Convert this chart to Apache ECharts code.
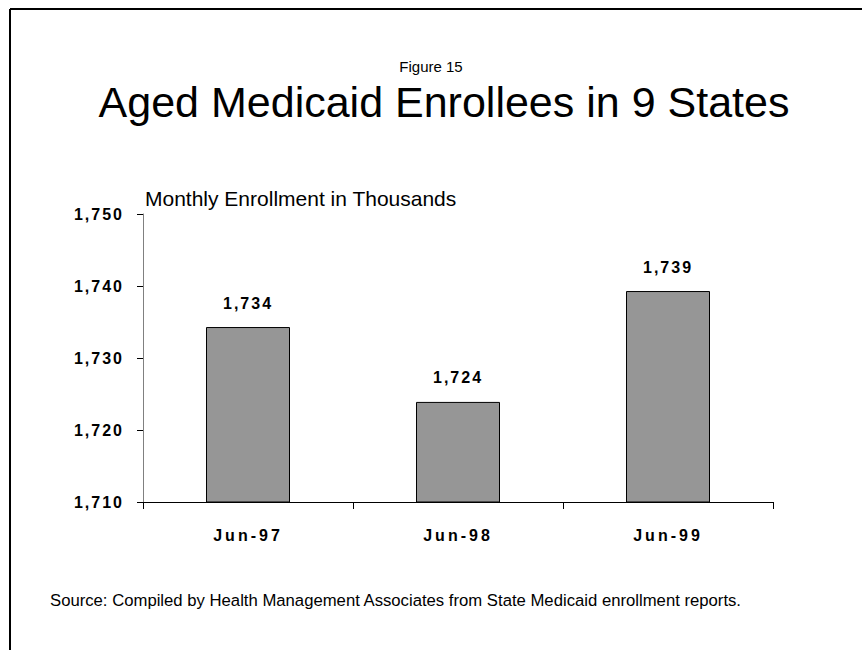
<!DOCTYPE html>
<html>
<head>
<meta charset="utf-8">
<script src="https://cdn.jsdelivr.net/npm/echarts@6/dist/echarts.min.js"></script>
<style>
  html, body { margin: 0; padding: 0; background: #fff; }
  #chart { width: 862px; height: 650px; }
  /* bold axis and value labels are set with open letter spacing */
  #chart text[style*="bold"] { letter-spacing: 2px; }
  #chart text[style*="bold"][style*="Liberation"] { letter-spacing: 3px; }
</style>
</head>
<body>
<div id="chart"></div>
<script>
// Aged Medicaid enrollees, monthly enrollment in thousands
const categories = ['Jun-97', 'Jun-98', 'Jun-99'];
const enrollment = [1734.3, 1723.9, 1739.3];
const yTicks = [1710, 1720, 1730, 1740, 1750];

const figureLabel = 'Figure 15';
const titleText = 'Aged Medicaid Enrollees in 9 States';
const unitText = 'Monthly Enrollment in Thousands';
const sourceText = 'Source: Compiled by Health Management Associates from State Medicaid enrollment reports.';

const FONT = 'Arial, Helvetica, sans-serif';
const FONT_CAT = '"Liberation Sans", sans-serif';
const fmt = v => Math.round(v).toLocaleString('en-US');

const chart = echarts.init(document.getElementById('chart'), null, { renderer: 'svg' });

chart.setOption({
  animation: false,
  backgroundColor: '#ffffff',
  grid: { left: 143, right: 89, top: 214, bottom: 148, containLabel: false },
  xAxis: {
    type: 'category',
    data: categories,
    boundaryGap: true,
    axisLine: { show: true, lineStyle: { color: '#000', width: 1 } },
    axisTick: { show: true, length: 7, alignWithLabel: false, lineStyle: { color: '#000' } },
    axisLabel: { color: '#000', fontFamily: FONT_CAT, fontWeight: 'bold', fontSize: 16, margin: 25 },
    splitLine: { show: false }
  },
  yAxis: {
    type: 'value',
    min: yTicks[0],
    max: yTicks[yTicks.length - 1],
    interval: yTicks[1] - yTicks[0],
    axisLine: { show: true, lineStyle: { color: '#808080', width: 1 } },
    axisTick: { show: true, length: 6, lineStyle: { color: '#000' } },
    axisLabel: { color: '#000', fontFamily: FONT, fontWeight: 'bold', fontSize: 16, margin: 19, formatter: fmt },
    splitLine: { show: false }
  },
  series: [{
    type: 'bar',
    data: enrollment,
    barWidth: '40%',
    itemStyle: { color: '#969696', borderColor: '#000', borderWidth: 1 },
    label: {
      show: true,
      position: 'top',
      distance: 16,
      color: '#000',
      fontFamily: FONT,
      fontWeight: 'bold',
      fontSize: 16,
      formatter: p => fmt(p.value)
    }
  }],
  graphic: [
    // page frame: top and left rules
    { type: 'line', shape: { x1: 10, y1: 9, x2: 862, y2: 9 }, style: { stroke: '#000', lineWidth: 2 } },
    { type: 'line', shape: { x1: 10, y1: 9, x2: 10, y2: 650 }, style: { stroke: '#000', lineWidth: 2 } },
    { type: 'text', left: 'center', top: 59,
      style: { text: figureLabel, font: '15px ' + FONT, fill: '#000' } },
    { type: 'text', x: 444, y: 80,
      style: { text: titleText, font: '43px ' + FONT, fill: '#000', textAlign: 'center' } },
    { type: 'text', x: 145, y: 188,
      style: { text: unitText, font: '21px ' + FONT, fill: '#000' } },
    { type: 'text', x: 50, y: 592,
      style: { text: sourceText, font: '16.7px ' + FONT, fill: '#000' } }
  ]
});
</script>
</body>
</html>
